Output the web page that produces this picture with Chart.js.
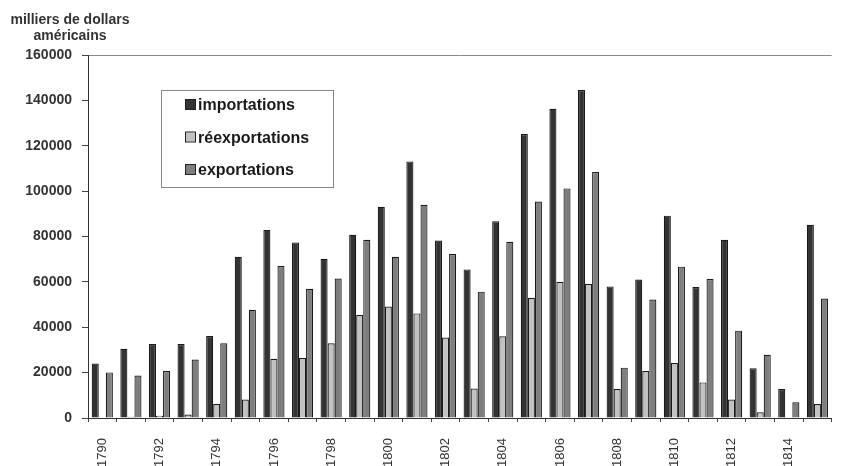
<!DOCTYPE html>
<html>
<head>
<meta charset="utf-8">
<script src="https://cdn.jsdelivr.net/npm/chart.js@4/dist/chart.umd.min.js"></script>
<style>
  html, body { margin: 0; padding: 0; background: #ffffff; }
  #wrap { width: 849px; height: 466px; }
</style>
</head>
<body>
<div id="wrap"><canvas id="c" width="849" height="466"></canvas></div>
<script>
const years = ["1790","1791","1792","1793","1794","1795","1796","1797","1798","1799","1800","1801","1802","1803","1804","1805","1806","1807","1808","1809","1810","1811","1812","1813","1814","1815"];
const importations   = [24000, 30500, 32600, 32600, 36100, 71100, 82900, 77400, 70200, 80800, 93100, 113100, 78200, 65500, 86700, 125200, 136300, 144600, 58000, 61000, 89200, 57700, 78600, 21900, 12800, 85200];
const reexportations = [0, 500, 1000, 1500, 6200, 8100, 26100, 26500, 32900, 45400, 49100, 46100, 35500, 13000, 36000, 53000, 60000, 59200, 12800, 20700, 24200, 15700, 8100, 2500, 0, 6200];
const exportations   = [20100, 18700, 20700, 25800, 32900, 47700, 67000, 57000, 61500, 78600, 71100, 94000, 72300, 55700, 77700, 95400, 101200, 108400, 22200, 52200, 66700, 61300, 38500, 27900, 6900, 52700];
const yTicks = [0, 20000, 40000, 60000, 80000, 100000, 120000, 140000, 160000];
const seriesNames = ["importations", "réexportations", "exportations"];
const axisTitle = ["milliers de dollars", "américains"];

const FONT = "'Liberation Sans', Arial, sans-serif";

const titlePlugin = {
  id: 'axisTitle',
  afterDraw(chart) {
    const ctx = chart.ctx;
    ctx.save();
    ctx.fillStyle = '#333';
    ctx.font = 'bold 14px ' + FONT;
    ctx.textAlign = 'center';
    ctx.textBaseline = 'alphabetic';
    ctx.fillText(axisTitle[0], 70, 24);
    ctx.fillText(axisTitle[1], 70, 40);
    ctx.restore();
  }
};

const legendPlugin = {
  id: 'boxLegend',
  afterDraw(chart) {
    const ctx = chart.ctx;
    const a = chart.chartArea;
    const bx = a.left + 73, by = a.top + 35, bw = 172, bh = 97;
    ctx.save();
    ctx.fillStyle = '#ffffff';
    ctx.fillRect(bx, by, bw, bh);
    ctx.strokeStyle = '#888';
    ctx.lineWidth = 1;
    ctx.strokeRect(bx + 0.5, by + 0.5, bw, bh);
    ctx.font = 'bold 16px ' + FONT;
    ctx.textBaseline = 'middle';
    ctx.textAlign = 'left';
    chart.data.datasets.forEach((ds, i) => {
      const cy = by + 15 + i * 32.5;
      ctx.fillStyle = ds.backgroundColor;
      ctx.fillRect(bx + 25, cy - 5, 9, 9);
      ctx.strokeStyle = '#222';
      ctx.strokeRect(bx + 24.5, cy - 5.5, 10, 10);
      ctx.fillStyle = '#1a1a1a';
      ctx.fillText(ds.label, bx + 37, cy + 1);
    });
    ctx.restore();
  }
};

new Chart(document.getElementById('c'), {
  type: 'bar',
  data: {
    labels: years,
    datasets: [
      { label: seriesNames[0], data: importations, backgroundColor: '#333333', borderColor: '#1a1a1a', borderWidth: 1.2 },
      { label: seriesNames[1], data: reexportations, backgroundColor: '#c2c2c2', borderColor: '#1a1a1a', borderWidth: 1.2 },
      { label: seriesNames[2], data: exportations, backgroundColor: '#7e7e7e', borderColor: '#1a1a1a', borderWidth: 1.2 }
    ]
  },
  options: {
    responsive: false,
    devicePixelRatio: 1,
    animation: false,
    layout: { padding: { top: 55, right: 0, bottom: 0, left: 0 } },
    plugins: { legend: { display: false }, title: { display: false }, tooltip: { enabled: false } },
    datasets: { bar: { categoryPercentage: 0.74, barPercentage: 1.0 } },
    scales: {
      x: {
        grid: { display: true, drawOnChartArea: false, offset: true, tickLength: 4, tickColor: '#444' },
        border: { display: true, color: '#333', width: 1 },
        ticks: {
          autoSkip: false, maxRotation: 90, minRotation: 90, padding: 16,
          color: '#333', font: { family: FONT, size: 13 },
          callback: function(v, i) { return i % 2 === 0 ? years[i] : ''; }
        },
        afterFit: function(s) { s.height = 48; }
      },
      y: {
        min: 0, max: 160000,
        afterBuildTicks: function(s) { s.ticks = yTicks.map(v => ({ value: v })); },
        grid: {
          drawOnChartArea: true, tickLength: 6, tickColor: '#444',
          color: function(c) { return (c.tick && c.tick.value === 160000) ? '#8a8a8a' : 'rgba(0,0,0,0)'; }
        },
        border: { display: true, color: '#333', width: 1 },
        ticks: { padding: 10, color: '#333', font: { family: FONT, size: 14, weight: 'bold' },
          callback: function(v) { return String(v); } },
        afterFit: function(s) { s.width = 88; }
      }
    }
  },
  plugins: [titlePlugin, legendPlugin]
});
</script>
</body>
</html>
